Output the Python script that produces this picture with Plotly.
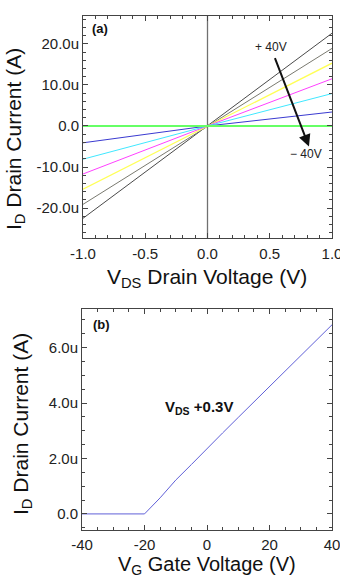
import plotly.graph_objects as go

# ---- Panel (a) data: output curves, I_D vs V_DS for gate voltages +40V ... -40V
vds = [-1.0, 0.0, 1.0]
curve_names = ["+40V", "+27V", "+13V", "0V", "-13V", "-27V", "-40V"]
curve_neg = [-22.5e-6, -19.1e-6, -15.4e-6, -11.7e-6, -8.1e-6, -4.1e-6, 0.0]
curve_pos = [22.6e-6, 18.9e-6, 15.3e-6, 11.5e-6, 7.9e-6, 3.4e-6, 0.0]
curve_colors = ["#4a4a4a", "#7a7a70", "#ffff55", "#ff40ff", "#40e8ff", "#3a3ad0", "#66ff66"]
curve_widths = [1, 1, 1.3, 1, 1, 1, 2]

ya_tickvals = [-20e-6, -10e-6, 0, 10e-6, 20e-6]
ya_ticktext = ["-20.0u", "-10.0u", "0.0", "10.0u", "20.0u"]
xa_tickvals = [-1.0, -0.5, 0.0, 0.5, 1.0]
xa_ticktext = ["-1.0", "-0.5", "0.0", "0.5", "1.0"]

# ---- Panel (b) data: transfer curve, I_D vs V_G at V_DS = +0.3V
vg = [-40, -30, -20, -15, -10, -5, 0, 5, 10, 20, 30, 40]
id_b = [0.0, 0.0, 0.0, 0.58e-6, 1.22e-6, 1.78e-6, 2.36e-6, 2.92e-6, 3.48e-6, 4.6e-6, 5.72e-6, 6.82e-6]

yb_tickvals = [0, 2e-6, 4e-6, 6e-6]
yb_ticktext = ["0.0", "2.0u", "4.0u", "6.0u"]
xb_tickvals = [-40, -20, 0, 20, 40]
xb_ticktext = ["-40", "-20", "0", "20", "40"]

W, H = 340, 579
FONT = "Liberation Sans, Arial, sans-serif"
AX = "#444444"

def px(x):
    return x / W

def py(y):
    return 1 - y / H

fig = go.Figure()

# vertical line at V_DS = 0
fig.add_trace(go.Scatter(x=[0, 0], y=[-27.3e-6, 26.8e-6], mode="lines",
                         line=dict(color="#707070", width=1.3),
                         xaxis="x", yaxis="y", showlegend=False, hoverinfo="skip"))

for name, n, p, c, w in zip(curve_names, curve_neg, curve_pos, curve_colors, curve_widths):
    fig.add_trace(go.Scatter(x=vds, y=[n, 0.0, p], mode="lines", name=name,
                             line=dict(color=c, width=w),
                             xaxis="x", yaxis="y", showlegend=False))

fig.add_trace(go.Scatter(x=vg, y=id_b, mode="lines", name="VDS +0.3V",
                         line=dict(color="#6060d8", width=1),
                         xaxis="x2", yaxis="y2", showlegend=False))

common = dict(showline=True, linecolor=AX, linewidth=1, mirror="ticks",
              ticks="inside", ticklen=5, tickcolor=AX, showgrid=False,
              zeroline=False, tickfont=dict(family=FONT, size=15, color="#222222"),
              tickmode="array", ticklabeloverflow="allow", automargin=False)

fig.update_layout(
    width=W, height=H,
    margin=dict(l=0, r=0, t=0, b=0, autoexpand=False),
    paper_bgcolor="white", plot_bgcolor="white",
    xaxis=dict(domain=[px(83), px(332)], range=[-1.0, 1.0], anchor="y",
               tickvals=xa_tickvals, ticktext=xa_ticktext, ticklabelstandoff=2,
               minor=dict(ticks="inside", ticklen=3, tickcolor=AX, dtick=0.1, tick0=0, tickmode="linear"),
               **common),
    yaxis=dict(domain=[py(238), py(16)], range=[-27.3e-6, 26.8e-6], anchor="x",
               tickvals=ya_tickvals, ticktext=ya_ticktext,
               minor=dict(ticks="inside", ticklen=3, tickcolor=AX, dtick=2e-6, tick0=0, tickmode="linear"),
               **common),
    xaxis2=dict(domain=[px(82), px(332)], range=[-40, 40], anchor="y2",
                tickvals=xb_tickvals, ticktext=xb_ticktext, ticklabelstandoff=1,
                minor=dict(ticks="inside", ticklen=3, tickcolor=AX, dtick=5, tick0=0, tickmode="linear"),
                **common),
    yaxis2=dict(domain=[py(530), py(309)], range=[-0.58e-6, 7.39e-6], anchor="x2",
                tickvals=yb_tickvals, ticktext=yb_ticktext,
                minor=dict(ticks="inside", ticklen=3, tickcolor=AX, dtick=0.5e-6, tick0=0, tickmode="linear"),
                **common),
)

ytitle_font = dict(family=FONT, size=21, color="#111111")
xtitle_font = dict(family=FONT, size=21, color="#111111")
ann = []
# axis titles
ann.append(dict(text="I<sub>D</sub> Drain Current (A)", x=px(15), y=py(139), xref="paper", yref="paper",
                textangle=-90, showarrow=False, font=ytitle_font, xanchor="center", yanchor="middle"))
ann.append(dict(text="V<sub>DS</sub> Drain Voltage (V)", x=px(207), y=py(278), xref="paper", yref="paper",
                showarrow=False, font=xtitle_font, xanchor="center", yanchor="middle"))
ann.append(dict(text="I<sub>D</sub> Drain Current (A)", x=px(22), y=py(424), xref="paper", yref="paper",
                textangle=-90, showarrow=False, font=ytitle_font, xanchor="center", yanchor="middle"))
ann.append(dict(text="V<sub>G</sub> Gate Voltage (V)", x=px(207), y=py(565), xref="paper", yref="paper",
                showarrow=False, font=dict(family=FONT, size=20, color="#111111"),
                xanchor="center", yanchor="middle"))
# panel labels
ann.append(dict(text="<b>(a)</b>", x=px(100), y=py(29), xref="paper", yref="paper",
                showarrow=False, font=dict(family=FONT, size=13, color="#111"), xanchor="center", yanchor="middle"))
ann.append(dict(text="<b>(b)</b>", x=px(101), y=py(324), xref="paper", yref="paper",
                showarrow=False, font=dict(family=FONT, size=13, color="#111"), xanchor="center", yanchor="middle"))
# arrow and gate voltage labels in panel (a)
ann.append(dict(x=0.815, y=-5.0e-6, ax=0.537, ay=16.9e-6, xref="x", yref="y", axref="x", ayref="y",
                text="", showarrow=True, arrowhead=2, arrowsize=1.2, arrowwidth=2, arrowcolor="#111111"))
ann.append(dict(text="+ 40V", x=0.507, y=19.3e-6, xref="x", yref="y", showarrow=False,
                font=dict(family=FONT, size=12, color="#222"), xanchor="center", yanchor="middle"))
ann.append(dict(text="\u2212 40V", x=0.79, y=-6.75e-6, xref="x", yref="y", showarrow=False,
                font=dict(family=FONT, size=12, color="#222"), xanchor="center", yanchor="middle"))
# V_DS label in panel (b)
ann.append(dict(text="<b>V<sub>DS</sub> +0.3V</b>", x=-2.6, y=3.82e-6, xref="x2", yref="y2", showarrow=False,
                font=dict(family=FONT, size=15, color="#111"), xanchor="center", yanchor="middle"))

fig.update_layout(annotations=ann)
fig.write_html("out.html")
